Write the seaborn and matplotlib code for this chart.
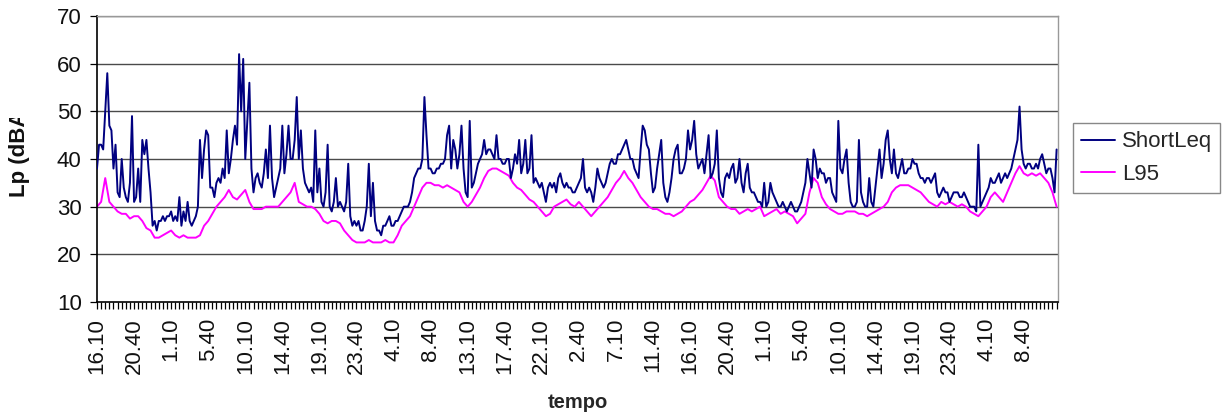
import numpy as np
import pandas as pd
import matplotlib
matplotlib.use("Agg")
import matplotlib.pyplot as plt
import seaborn as sns
from matplotlib.ticker import MultipleLocator
from matplotlib.transforms import Bbox

# Time-of-day labels, one every 4.5 h of recording
time_labels = [
    "16.10", "20.40", "1.10", "5.40", "10.10", "14.40", "19.10", "23.40", "4.10",
    "8.40", "13.10", "17.40", "22.10", "2.40", "7.10", "11.40", "16.10", "20.40",
    "1.10", "5.40", "10.10", "14.40", "19.10", "23.40", "4.10", "8.40",
]

# Short Leq, dB(A), one value every 15 min (18 values per 4.5 h block)
short_leq = [
    38, 43, 43, 42, 50, 58, 47, 46, 38, 43, 33, 32, 40, 34, 32, 31, 35, 49,
    31, 32, 38, 31, 44, 41, 44, 38, 33, 26, 27, 25, 27, 27, 28, 27, 28, 28,
    29, 27, 28, 27, 32, 26, 29, 27, 31, 27, 26, 27, 28, 30, 44, 36, 42, 46,
    45, 34, 34, 32, 35, 36, 35, 38, 36, 46, 37, 40, 44, 47, 43, 62, 50, 61,
    40, 48, 56, 38, 33, 36, 37, 35, 34, 37, 42, 36, 47, 36, 32, 34, 36, 38,
    47, 37, 41, 47, 40, 40, 44, 53, 40, 46, 38, 35, 34, 33, 34, 31, 46, 33,
    38, 31, 30, 33, 43, 30, 29, 31, 36, 30, 31, 30, 29, 31, 39, 28, 26, 27,
    26, 27, 25, 25, 27, 30, 39, 28, 35, 27, 25, 25, 24, 26, 26, 27, 28, 26,
    26, 27, 27, 28, 29, 30, 30, 30, 31, 33, 36, 37, 38, 38, 40, 53, 45, 38,
    38, 37, 37, 38, 38, 39, 39, 40, 45, 47, 38, 44, 42, 38, 41, 47, 38, 33,
    32, 48, 34, 35, 37, 39, 40, 41, 44, 41, 42, 42, 41, 40, 45, 40, 40, 39,
    39, 40, 40, 36, 38, 41, 39, 44, 37, 39, 44, 37, 38, 45, 35, 36, 35, 34,
    35, 33, 31, 34, 35, 34, 35, 33, 36, 37, 35, 34, 35, 34, 34, 33, 33, 34,
    35, 36, 40, 34, 33, 34, 33, 31, 34, 38, 36, 35, 34, 35, 37, 39, 40, 39,
    39, 41, 41, 42, 43, 44, 42, 40, 40, 38, 37, 36, 42, 47, 46, 43, 42, 37,
    33, 34, 38, 41, 44, 35, 32, 31, 33, 36, 40, 42, 43, 37, 37, 38, 40, 46,
    42, 44, 48, 41, 38, 39, 40, 37, 41, 45, 36, 37, 39, 46, 36, 33, 32, 36,
    37, 36, 38, 39, 35, 36, 40, 35, 33, 37, 39, 34, 33, 33, 32, 31, 31, 30,
    35, 30, 31, 35, 33, 32, 31, 30, 30, 31, 30, 29, 30, 31, 30, 29, 29, 30,
    31, 33, 35, 40, 37, 34, 42, 40, 36, 38, 37, 37, 35, 36, 36, 33, 32, 31,
    48, 38, 37, 40, 42, 35, 31, 30, 30, 31, 44, 33, 31, 30, 30, 36, 31, 30,
    34, 38, 42, 36, 39, 44, 46, 40, 37, 42, 37, 36, 38, 40, 37, 37, 38, 38,
    40, 39, 39, 37, 36, 36, 35, 36, 36, 35, 36, 37, 33, 32, 33, 34, 33, 33,
    31, 32, 33, 33, 33, 32, 32, 33, 32, 31, 30, 30, 30, 29, 43, 30, 31, 32,
    33, 34, 36, 35, 35, 36, 37, 35, 36, 37, 36, 37, 38, 40, 42, 44, 51, 42,
    39, 38, 39, 39, 38, 38, 39, 38, 40, 41, 39, 37, 38, 38, 36, 33, 42,
]

# L95, dB(A), one value every 30 min
l95 = [
    30, 31, 36, 31, 30, 29, 28.5, 28.5, 27.5, 28,
    28, 27, 25.5, 25, 23.5, 23.5, 24, 24.5, 25, 24,
    23.5, 24, 23.5, 23.5, 23.5, 24, 26, 27, 28.5, 30,
    31, 32, 33.5, 32, 31.5, 32.5, 33.5, 31, 29.5, 29.5,
    29.5, 30, 30, 30, 30, 31, 32, 33, 35, 31,
    30.5, 30, 30, 29.5, 28.5, 27, 26.5, 27, 27, 26.5,
    25, 24, 23, 22.5, 22.5, 22.5, 23, 22.5, 22.5, 22.5,
    23, 22.5, 22.5, 24, 26, 27, 28, 30, 32, 34,
    35, 35, 34.5, 34.5, 34, 34.5, 34, 33.5, 33, 31,
    30, 31, 32.5, 34, 36, 37.5, 38, 38, 37.5, 37,
    36.5, 35, 34, 33.5, 32.5, 31.5, 31, 30, 29, 28,
    28.5, 30, 30.5, 31, 31.5, 30.5, 30, 31, 30, 29,
    28, 29, 30, 31, 32, 33.5, 35, 36, 37.5, 36,
    35, 33.5, 32, 31, 30, 29.5, 29.5, 29, 28.5, 28.5,
    28, 28.5, 29, 30, 31, 31.5, 32.5, 33.5, 35, 36.5,
    35.5, 32, 31, 30, 29.5, 29.5, 28.5, 29, 29.5, 29,
    29.5, 30, 28, 28.5, 29, 29.5, 28.5, 29, 28.5, 28,
    26.5, 27.5, 28.5, 33, 36, 35, 32, 30.5, 29.5, 29,
    28.5, 28.5, 29, 29, 29, 28.5, 28.5, 28, 28.5, 29,
    29.5, 30, 31, 33, 34, 34.5, 34.5, 34.5, 34, 33.5,
    33, 32, 31, 30.5, 30, 31, 30.5, 31, 30.5, 30,
    30.5, 30, 29, 28.5, 28, 29, 30, 32, 33, 32,
    31, 33, 35, 37, 38.5, 37, 36.5, 37, 36.5, 37,
    36, 35, 33, 30,
]

LEQ_STEP_H = 0.25
L95_STEP_H = 0.5
LABEL_STEP_H = 4.5
SPAN_H = 116.67

sns.set_style("white")
plt.rcParams["font.family"] = ["Liberation Sans", "DejaVu Sans"]

df_leq = pd.DataFrame({"ore": np.arange(len(short_leq)) * LEQ_STEP_H, "Lp": short_leq})
df_l95 = pd.DataFrame({"ore": np.arange(len(l95)) * L95_STEP_H, "Lp": l95})

W, H = 1224, 416
fig = plt.figure(figsize=(W / 100, H / 100), dpi=100)
fig.patch.set_facecolor("white")
ax = fig.add_axes([97 / W, 1 - 302 / H, (1058 - 97) / W, (302 - 16) / H])

# horizontal gridlines
for v in range(20, 71, 10):
    ax.axhline(v, color="#4a4a4a", lw=1.0, zorder=0.5)

sns.lineplot(data=df_leq, x="ore", y="Lp", ax=ax, color="#000080", lw=1.4,
             label="ShortLeq", estimator=None, zorder=3)
sns.lineplot(data=df_l95, x="ore", y="Lp", ax=ax, color="#ff00ff", lw=1.4,
             label="L95", estimator=None, zorder=2)

ax.set_xlim(0, SPAN_H)
ax.set_ylim(10, 70)
ax.set_yticks(range(10, 71, 10))
ax.set_xticks(np.arange(len(time_labels)) * LABEL_STEP_H)
ax.set_xticklabels(time_labels, rotation=90, va="top", ha="center")
ax.xaxis.set_minor_locator(MultipleLocator(L95_STEP_H))

ax.tick_params(axis="x", which="both", direction="out", length=5, width=0.9,
               color="black", bottom=True)
ax.tick_params(axis="x", which="major", labelsize=16, pad=6.5, labelcolor="#111")
ax.tick_params(axis="y", direction="out", length=5, width=0.9, color="black",
               left=True, labelsize=16, pad=6, labelcolor="#111")

for side in ("left", "bottom"):
    ax.spines[side].set_color("black")
    ax.spines[side].set_linewidth(1.2)
for side in ("top", "right"):
    ax.spines[side].set_color("#999999")
    ax.spines[side].set_linewidth(1.0)

ax.set_xlabel("tempo", fontsize=14.5, fontweight="bold", va="center")
ax.xaxis.set_label_coords(0.5, (302 - 403) / 286)
ax.set_ylabel("")

# y-axis title, cut at the top
ytitle = fig.text(30 / W, 1 - 197 / H, "Lp (dBA)", rotation=90,
                  rotation_mode="anchor", ha="left", va="bottom",
                  fontsize=16, fontweight="bold", color="#111")
ytitle.set_clip_box(Bbox.from_extents(0, 0, 97, H - 118))
ytitle.set_clip_on(True)

leg = ax.legend(loc="upper left", bbox_to_anchor=(1073 / W, 1 - 123 / H),
                bbox_transform=fig.transFigure, fontsize=16, frameon=True,
                fancybox=False, framealpha=1, edgecolor="#888888",
                borderpad=0.38, labelspacing=0.5, handlelength=1.5,
                handletextpad=0.32, borderaxespad=0)
leg.get_frame().set_linewidth(1.0)

fig.savefig("out.png", dpi=100, facecolor="white")
